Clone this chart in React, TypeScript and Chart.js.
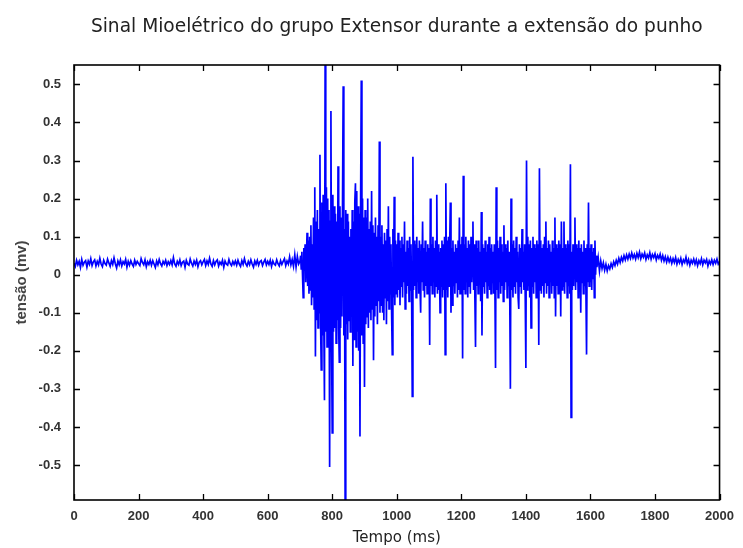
import React, { useEffect, useRef } from "react";
import { Chart, registerables } from "chart.js";

Chart.register(...registerables);

// ---- Text ----
const chartTitle = "Sinal Mioelétrico do grupo Extensor durante a extensão do punho";
const xAxisTitle = "Tempo (ms)";
const yAxisTitle = "tensão (mv)";

// ---- Axes ----
const xMin = 0;
const xMax = 2000;
const xTicks = [0, 200, 400, 600, 800, 1000, 1200, 1400, 1600, 1800, 2000];
const yMin = -0.592;
const yMax = 0.551;
const yTicks = [-0.5, -0.4, -0.3, -0.2, -0.1, 0, 0.1, 0.2, 0.3, 0.4, 0.5];

// ---- Signal (mV), rest before contraction: starts at 0 ms, one sample every 4 ms ----
const restBeforeStartMs = 0;
const restBeforeStepMs = 4;
const restBefore = [
  0.030, 0.022, 0.038, 0.026, 0.035, 0.019, 0.040, 0.025, 0.033, 0.037, 0.020, 0.036, 0.027, 0.042, 0.024, 0.034, 0.039, 0.023, 0.035, 0.026, 0.043, 0.028, 0.021, 0.038, 0.029,
  0.025, 0.041, 0.031, 0.022, 0.037, 0.027, 0.044, 0.029, 0.018, 0.036, 0.026, 0.039, 0.023, 0.034, 0.028, 0.040, 0.020, 0.035, 0.025, 0.037, 0.028, 0.022, 0.038, 0.027, 0.035,
  0.029, 0.024, 0.042, 0.032, 0.026, 0.039, 0.021, 0.034, 0.027, 0.038, 0.025, 0.037, 0.028, 0.019, 0.036, 0.026, 0.040, 0.029, 0.023, 0.035, 0.028, 0.038, 0.024, 0.034, 0.027,
  0.037, 0.026, 0.045, 0.028, 0.022, 0.035, 0.027, 0.039, 0.024, 0.033, 0.036, 0.020, 0.038, 0.028, 0.025, 0.041, 0.030, 0.023, 0.036, 0.027, 0.038, 0.021, 0.033, 0.037, 0.026,
  0.034, 0.040, 0.024, 0.036, 0.027, 0.043, 0.028, 0.022, 0.037, 0.026, 0.035, 0.039, 0.023, 0.033, 0.027, 0.038, 0.020, 0.036, 0.028, 0.025, 0.040, 0.029, 0.024, 0.035, 0.027,
  0.036, 0.025, 0.038, 0.028, 0.022, 0.037, 0.027, 0.042, 0.029, 0.023, 0.035, 0.026, 0.039, 0.028, 0.020, 0.036, 0.027, 0.038, 0.025, 0.034, 0.037, 0.024, 0.033, 0.040, 0.026,
  0.035, 0.027, 0.038, 0.022, 0.036, 0.028, 0.025, 0.039, 0.029, 0.023, 0.037, 0.027, 0.035, 0.042, 0.024, 0.036, 0.028, 0.047, 0.026, 0.040, 0.022, 0.052, 0.020, 0.048, 0.028,
];

// ---- Signal (mV), contraction burst: starts at 700 ms, one sample every 2 ms ----
const burstStartMs = 700;
const burstStepMs = 2;
const burst = [
  // 700-748
  0.035, 0.05, 0.015, 0.06, 0.0, -0.06, 0.07, 0.01, 0.08, -0.02, 0.04, 0.11, -0.03, 0.09, -0.05, 0.10, -0.04, 0.13, -0.08, 0.08, -0.06, 0.15, -0.09, 0.23, -0.215,
  // 750-798
  0.14, -0.12, 0.17, -0.14, 0.12, -0.10, 0.315, -0.13, -0.25, 0.19, -0.16, 0.21, -0.13, -0.33, 0.553, -0.15, 0.23, -0.19, 0.20, -0.12, 0.17, -0.505, 0.14, 0.43, -0.17,
  // 800-848
  -0.416, 0.21, -0.15, 0.18, -0.14, 0.16, -0.18, 0.14, -0.12, 0.285, -0.14, -0.23, 0.18, -0.14, 0.15, -0.11, 0.20, 0.495, -0.16, 0.12, -0.60, 0.17, -0.13, 0.16, -0.17,
  // 850-898
  0.14, -0.12, 0.10, -0.15, 0.12, -0.10, 0.17, -0.24, 0.14, -0.17, 0.19, 0.24, -0.19, 0.22, -0.15, 0.18, -0.20, 0.16, -0.425, 0.19, 0.51, -0.16, 0.20, -0.18, 0.15,
  // 900-948
  -0.295, 0.17, -0.13, 0.15, -0.11, 0.20, -0.14, 0.12, -0.10, 0.14, -0.12, 0.22, -0.09, 0.13, -0.225, 0.11, -0.11, 0.15, -0.08, 0.10, -0.13, 0.13, -0.07, 0.35, -0.10,
  // 950-998
  0.10, -0.08, 0.13, -0.10, 0.08, -0.12, 0.11, -0.06, 0.09, -0.13, 0.12, -0.07, 0.18, -0.09, 0.10, -0.05, 0.08, -0.10, -0.21, 0.12, -0.06, 0.205, -0.08, 0.09, -0.05,
  // 1000-1048
  0.08, -0.06, 0.11, -0.04, 0.09, -0.08, 0.07, -0.03, 0.10, -0.06, 0.08, -0.02, 0.14, -0.09, 0.06, -0.05, 0.09, -0.03, 0.07, -0.07, 0.10, -0.04, 0.08, -0.05, -0.32,
  // 1050-1098
  0.31, -0.04, 0.09, -0.03, 0.08, -0.06, 0.10, -0.02, 0.07, -0.05, 0.09, -0.03, -0.10, 0.08, -0.02, 0.14, -0.04, 0.07, -0.06, 0.09, -0.03, 0.06, -0.05, 0.08, -0.04,
  // 1100-1148
  0.07, -0.185, 0.20, -0.03, 0.08, -0.05, 0.10, -0.02, 0.07, -0.06, 0.09, -0.03, 0.21, -0.05, 0.08, -0.04, 0.06, -0.10, 0.07, -0.03, 0.09, -0.06, 0.08, -0.04, 0.10,
  // 1150-1198
  -0.21, 0.24, -0.04, 0.09, -0.06, 0.10, -0.03, 0.08, 0.19, -0.10, 0.07, -0.08, 0.09, -0.03, 0.06, -0.05, 0.08, -0.02, 0.07, -0.06, 0.09, -0.04, 0.15, -0.05, 0.08,
  // 1200-1248
  -0.03, 0.10, -0.22, 0.26, -0.04, 0.08, -0.05, 0.10, -0.02, 0.07, -0.06, 0.09, -0.03, 0.08, -0.05, 0.10, -0.02, 0.07, 0.14, -0.04, 0.08, -0.06, -0.19, 0.09, -0.03,
  // 1250-1298
  0.07, -0.05, 0.09, -0.02, 0.06, -0.07, 0.165, -0.16, 0.08, -0.03, 0.07, -0.05, 0.09, -0.02, 0.06, -0.06, 0.08, -0.03, 0.10, -0.04, 0.07, -0.05, 0.08, -0.02, 0.06,
  // 1300-1348
  -0.05, 0.08, -0.03, -0.245, 0.23, -0.04, 0.09, -0.06, 0.07, -0.02, 0.10, -0.05, 0.08, -0.03, 0.06, -0.07, 0.13, -0.04, 0.08, -0.02, 0.07, -0.06, 0.09, -0.03, 0.06,
  // 1350-1398
  -0.05, -0.30, 0.20, -0.04, 0.08, -0.06, 0.09, -0.03, 0.07, -0.05, 0.10, -0.02, 0.06, -0.06, -0.09, 0.08, -0.03, 0.07, -0.05, 0.12, -0.02, 0.06, -0.04, 0.08, -0.06,
  // 1400-1448
  -0.245, 0.30, -0.04, 0.10, -0.03, 0.08, -0.06, 0.09, -0.14, 0.07, -0.03, 0.10, -0.05, 0.08, -0.02, 0.07, -0.06, 0.09, -0.03, 0.08, -0.185, 0.28, -0.04, 0.09, -0.05,
  // 1450-1498
  0.07, -0.03, 0.08, -0.06, 0.10, -0.02, 0.14, -0.05, 0.07, -0.03, 0.09, -0.06, 0.08, -0.02, 0.06, -0.05, 0.09, -0.03, 0.07, -0.06, 0.15, -0.11, 0.08, -0.03, 0.07,
  // 1500-1548
  -0.05, 0.09, -0.02, 0.08, -0.11, 0.14, -0.04, 0.07, -0.03, 0.14, -0.05, 0.08, -0.02, 0.07, -0.06, 0.09, -0.03, 0.08, -0.05, 0.29, -0.375, 0.06, -0.04, 0.08, -0.03,
  // 1550-1598
  0.07, 0.15, -0.04, 0.08, -0.02, 0.07, -0.06, 0.09, -0.03, 0.07, -0.10, 0.08, -0.02, 0.06, -0.05, 0.09, -0.03, 0.07, -0.04, -0.21, 0.08, -0.02, 0.19, -0.03, 0.07,
  // 1600-1618
  -0.02, 0.08, -0.04, 0.06, -0.01, 0.07, -0.06, 0.09, 0.0, 0.05,
];

// ---- Signal (mV), rest after contraction: starts at 1620 ms, one sample every 4 ms ----
const restAfterStartMs = 1620;
const restAfterStepMs = 4;
const restAfter = [
  0.020, 0.045, 0.010, 0.036, 0.016, 0.031, 0.012, 0.027, 0.010, 0.024, 0.015, 0.029, 0.019, 0.034, 0.024, 0.038, 0.028, 0.043, 0.032, 0.046, 0.036, 0.050, 0.039, 0.052, 0.041,
  0.054, 0.043, 0.057, 0.044, 0.053, 0.041, 0.056, 0.045, 0.059, 0.042, 0.054, 0.046, 0.057, 0.040, 0.052, 0.044, 0.058, 0.041, 0.053, 0.045, 0.055, 0.039, 0.051, 0.043, 0.054,
  0.038, 0.050, 0.036, 0.047, 0.033, 0.046, 0.034, 0.044, 0.030, 0.042, 0.032, 0.045, 0.028, 0.040, 0.031, 0.043, 0.027, 0.039, 0.032, 0.046, 0.029, 0.040, 0.025, 0.038, 0.030,
  0.041, 0.028, 0.039, 0.024, 0.037, 0.029, 0.042, 0.026, 0.038, 0.031, 0.040, 0.023, 0.036, 0.028, 0.039, 0.027, 0.038, 0.030, 0.041, 0.028, 0.034,
];

function toPoints(startMs: number, stepMs: number, values: number[]) {
  return values.map((v, i) => ({ x: startMs + i * stepMs, y: v }));
}

const tickFont = { family: '"Liberation Sans", Arial, sans-serif', size: 13, weight: "bold" as const };

const framePlugin = {
  id: "matlabFrame",
  afterDraw(chart: any) {
    const { ctx, chartArea } = chart;
    const { left, right, top, bottom } = chartArea;
    const xs = chart.scales.x;
    const ys = chart.scales.y;
    ctx.save();
    ctx.strokeStyle = "#000";
    ctx.lineWidth = 1.6;
    ctx.strokeRect(left, top, right - left, bottom - top);
    ctx.lineWidth = 1.3;
    const L = 6;
    ctx.beginPath();
    for (const v of xTicks) {
      const px = Math.round(xs.getPixelForValue(v)) + 0.5;
      ctx.moveTo(px, bottom);
      ctx.lineTo(px, bottom - L);
      ctx.moveTo(px, top);
      ctx.lineTo(px, top + L);
    }
    for (const v of yTicks) {
      const py = Math.round(ys.getPixelForValue(v)) + 0.5;
      ctx.moveTo(left, py);
      ctx.lineTo(left + L, py);
      ctx.moveTo(right, py);
      ctx.lineTo(right - L, py);
    }
    ctx.stroke();

    // chart title, centred over the axes
    ctx.fillStyle = "#222";
    ctx.textAlign = "center";
    ctx.textBaseline = "middle";
    let size = 16;
    ctx.font = `${size}px "DejaVu Sans", sans-serif`;
    const w = ctx.measureText(chartTitle).width;
    size = Math.min(19, size * 612 / w);
    ctx.font = `${size}px "DejaVu Sans", sans-serif`;
    ctx.fillText(chartTitle, (left + right) / 2, 27);
    ctx.restore();
  },
};

export default function App() {
  const canvasRef = useRef<HTMLCanvasElement | null>(null);

  useEffect(() => {
    const canvas = canvasRef.current;
    if (!canvas) return;
    const points = [
      ...toPoints(restBeforeStartMs, restBeforeStepMs, restBefore),
      ...toPoints(burstStartMs, burstStepMs, burst),
      ...toPoints(restAfterStartMs, restAfterStepMs, restAfter),
    ];
    const chart = new Chart(canvas, {
      type: "line",
      data: {
        datasets: [
          {
            data: points,
            borderColor: "#0000ff",
            borderWidth: 1.7,
            pointRadius: 0,
            fill: false,
            tension: 0,
          },
        ],
      },
      options: {
        responsive: false,
        animation: false,
        devicePixelRatio: 1,
        layout: { padding: { top: 65, right: 21, left: 0, bottom: 0 } },
        plugins: {
          legend: { display: false },
          tooltip: { enabled: false },
          title: { display: false },
        },
        scales: {
          x: {
            type: "linear",
            min: xMin,
            max: xMax,
            afterBuildTicks: (s: any) => {
              s.ticks = xTicks.map((v) => ({ value: v }));
            },
            afterFit: (s: any) => {
              s.height = 48;
            },
            grid: { display: false, drawTicks: false },
            border: { display: false },
            ticks: {
              font: tickFont,
              color: "#333",
              padding: 9,
              maxRotation: 0,
              autoSkip: false,
              callback: (v: any) => String(v),
            },
            title: {
              display: true,
              text: xAxisTitle,
              color: "#222",
              font: { family: '"DejaVu Sans", sans-serif', size: 15 },
              padding: { top: 0, bottom: 1 },
            },
          },
          y: {
            type: "linear",
            min: yMin,
            max: yMax,
            afterBuildTicks: (s: any) => {
              s.ticks = yTicks.map((v) => ({ value: v }));
            },
            afterFit: (s: any) => {
              s.width = 74;
            },
            grid: { display: false, drawTicks: false },
            border: { display: false },
            ticks: {
              font: tickFont,
              color: "#333",
              padding: 13,
              autoSkip: false,
              callback: (v: any) => (v === 0 ? "0" : Number(v).toFixed(1)),
            },
            title: {
              display: true,
              text: yAxisTitle,
              color: "#444",
              font: { family: '"Liberation Sans", Arial, sans-serif', size: 15, weight: "bold" },
              padding: { top: 13, bottom: 0 },
            },
          },
        },
      },
      plugins: [framePlugin],
    });
    return () => chart.destroy();
  }, []);

  return (
    <div style={{ position: "fixed", left: 0, top: 0, width: 743, height: 548, background: "#fff" }}>
      <canvas ref={canvasRef} width={743} height={548} style={{ display: "block" }} />
    </div>
  );
}
